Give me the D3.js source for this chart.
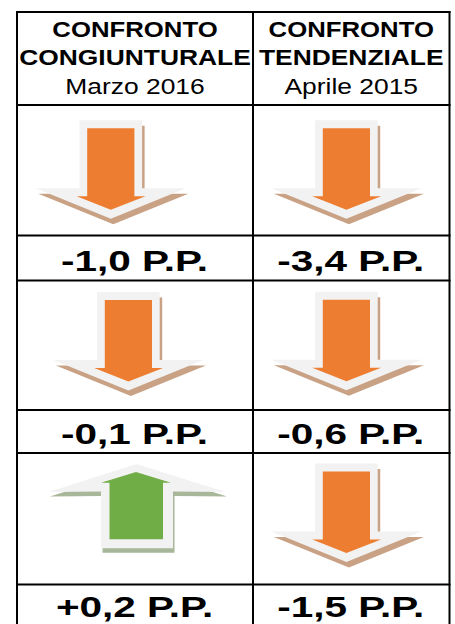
<!DOCTYPE html>
<html>
<head>
<meta charset="utf-8">
<script src="https://cdn.jsdelivr.net/npm/d3@7/dist/d3.min.js"></script>
<style>
  html, body { margin: 0; padding: 0; background: #ffffff; }
  svg { display: block; }
</style>
</head>
<body>
<script>
// ---- data ----
const headerLine1 = ["CONFRONTO", "CONFRONTO"];
const headerLine2 = ["CONGIUNTURALE", "TENDENZIALE"];
const periods = ["Marzo 2016", "Aprile 2015"];
const congiunturale = [-1.0, -0.1, 0.2];   // punti percentuali
const tendenziale = [-3.4, -0.6, -1.5];    // punti percentuali

// ---- layout ----
const W = 455, H = 624;
const colEdges = [17, 253, 449.5];
const rowEdges = [12, 105, 235.5, 280.5, 410, 453, 584.5];
const labelBaselines = [271, 443.5, 617];
const arrowAnchors = [
  [{cx: 110.8, y0: 120.2}, {cx: 346.4, y0: 120.3}],
  [{cx: 128.4, y0: 292.0}, {cx: 346.4, y0: 291.7}],
  [{cx: 136.5, y0: 464.0}, {cx: 346.4, y0: 463.5}]
];

const svg = d3.select("body").append("svg")
  .attr("width", W).attr("height", H);

const colIndex = d3.range(headerLine1.length);
const xCenter = d3.scaleOrdinal().domain(colIndex)
  .range(colIndex.map(i => (colEdges[i] + colEdges[i + 1]) / 2));

const fmt = v => (v > 0 ? "+" : v < 0 ? "-" : "") +
  d3.format(".1f")(Math.abs(v)).replace(".", ",") + " P.P.";

const cells = congiunturale.map((v, r) => [v, tendenziale[r]]);

// ---- arrows ----
const line = d3.line();
function downShapes(cx, y0) {
  const gray = [[-31.3,0],[31.3,0],[31.3,68],[75,68],[0,98.5],[-75,68],[-31.3,68]]
    .map(([x,y]) => [cx + x, y0 + y]);
  const shadow = gray.map(([x,y]) => [x + 2.5, y + 5.5]);
  const inner = [[-23.6,8],[23.6,8],[23.6,76],[34.7,76],[0,89.5],[-34.2,76],[-23.6,76]]
    .map(([x,y]) => [cx + x, y0 + y]);
  return {gray, shadow, inner};
}
function upShapes(cx, y0) {
  const gray = [[0,0],[89,28],[36.5,27.5],[36.5,84.3],[-35.5,84.3],[-35.5,27.5],[-88,28]]
    .map(([x,y]) => [cx + x, y0 + y]);
  const shadow = gray.map(([x,y]) => [x + 1.5, y + 4.5]);
  const inner = [[-0.5,8],[34.5,18.7],[26.5,18.7],[26.5,75.3],[-27,75.3],[-27,18.7],[-35.5,18.7]]
    .map(([x,y]) => [cx + x, y0 + y]);
  return {gray, shadow, inner};
}

const colors = {
  down: {shadow: "#c9a285", gray: "#f2f2f2", inner: "#ed7d31"},
  up:   {shadow: "#a8b79a", gray: "#f2f2f2", inner: "#70ad47"}
};

cells.forEach((row, r) => {
  row.forEach((v, c) => {
    const a = arrowAnchors[r][c];
    const dir = v >= 0 ? "up" : "down";
    const s = dir === "up" ? upShapes(a.cx, a.y0) : downShapes(a.cx, a.y0);
    const g = svg.append("g").attr("class", "arrow " + dir);
    ["shadow", "gray", "inner"].forEach(k => {
      g.append("path").attr("d", line(s[k]) + "Z").attr("fill", colors[dir][k]);
    });
  });
});

// ---- texts ----
const fontFam = "'Liberation Sans', Arial, Helvetica, sans-serif";
function addText(txt, cx, y, size, weight, sx) {
  svg.append("text")
    .attr("transform", `translate(${cx},${y}) scale(${sx},1)`)
    .attr("text-anchor", "middle")
    .attr("font-family", fontFam)
    .attr("font-size", size)
    .attr("font-weight", weight)
    .attr("fill", "#000")
    .text(txt);
}
colIndex.forEach(i => {
  addText(headerLine1[i], xCenter(i), 37.3, 22, "bold", 1.17);
  addText(headerLine2[i], xCenter(i), 65, 22, "bold", 1.2);
  addText(periods[i], xCenter(i), 94.3, 22, "normal", 1.2);
});
cells.forEach((row, r) => {
  row.forEach((v, c) => {
    addText(fmt(v), xCenter(c) - 0.5, labelBaselines[r], 30, "bold", 1.35);
  });
});

// ---- grid ----
const grid = svg.append("g").attr("stroke", "#000").attr("stroke-width", 2);
rowEdges.forEach(y => {
  grid.append("line").attr("x1", colEdges[0] - 1).attr("x2", colEdges[2] + 1)
    .attr("y1", y).attr("y2", y);
});
colEdges.forEach(x => {
  grid.append("line").attr("x1", x).attr("x2", x)
    .attr("y1", rowEdges[0] - 1).attr("y2", H);
});
</script>
</body>
</html>
